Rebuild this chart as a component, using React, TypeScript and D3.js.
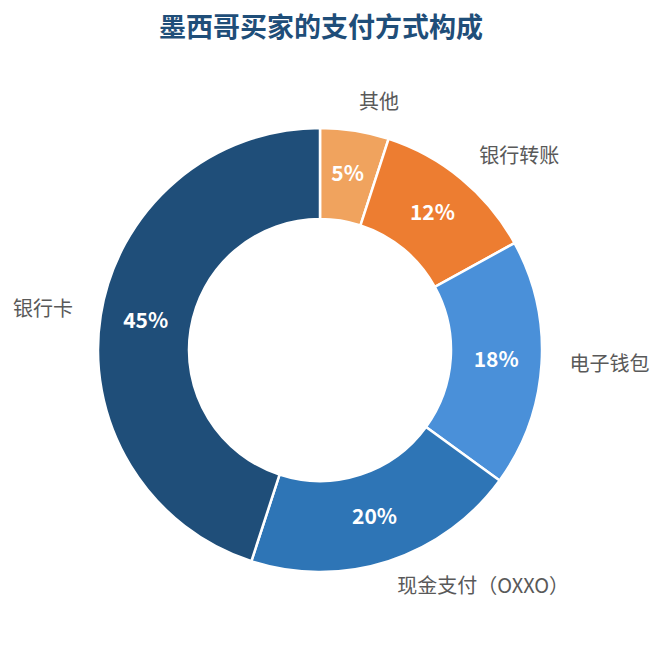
import * as d3 from "d3";
import React from "react";

const categories = ["其他", "银行转账", "电子钱包", "现金支付（OXXO）", "银行卡"];
const shares = [5, 12, 18, 20, 45];
const colors = ["#F0A35E", "#ED7D31", "#4A90D9", "#2E75B6", "#1F4E79"];

const width = 665;
const height = 645;
const cx = 320;
const cy = 350;
const outerR = 222;
const innerR = 131;
const labelR = 250;

const font = "'Noto Sans CJK SC', 'Noto Sans', sans-serif";

export default function App() {
  const pie = d3
    .pie<number>()
    .sort(null)
    .value((d) => d);
  const arcs = pie(shares);

  const arc = d3
    .arc<d3.PieArcDatum<number>>()
    .innerRadius(innerR)
    .outerRadius(outerR);

  const mid = (d: d3.PieArcDatum<number>) => (d.startAngle + d.endAngle) / 2;
  const pctR = (innerR + outerR) / 2;

  return (
    <svg
      width={width}
      height={height}
      style={{ position: "absolute", left: 0, top: 0, background: "#fff" }}
    >
      <text
        x={cx + 1}
        y={30}
        textAnchor="middle"
        dominantBaseline="middle"
        fontFamily={font}
        fontSize={27}
        fontWeight="bold"
        fill="#1F4E79"
      >
        墨西哥买家的支付方式构成
      </text>
      <g transform={`translate(${cx},${cy})`}>
        {arcs.map((d, i) => (
          <path
            key={categories[i]}
            d={arc(d) || ""}
            fill={colors[i]}
            stroke="#fff"
            strokeWidth={2.5}
          />
        ))}
        {arcs.map((d, i) => {
          const a = mid(d);
          return (
            <text
              key={"p" + i}
              x={pctR * Math.sin(a)}
              y={-pctR * Math.cos(a)}
              textAnchor="middle"
              dominantBaseline="middle"
              fontFamily={font}
              fontSize={21}
              fontWeight="bold"
              fill="#fff"
            >
              {d.data}%
            </text>
          );
        })}
        {arcs.map((d, i) => {
          const a = mid(d);
          const x = labelR * Math.sin(a);
          const y = -labelR * Math.cos(a);
          return (
            <text
              key={"l" + i}
              x={x}
              y={y}
              textAnchor={Math.sin(a) >= 0 ? "start" : "end"}
              dominantBaseline="middle"
              fontFamily={font}
              fontSize={20}
              fill="#595959"
            >
              {categories[i]}
            </text>
          );
        })}
      </g>
    </svg>
  );
}
